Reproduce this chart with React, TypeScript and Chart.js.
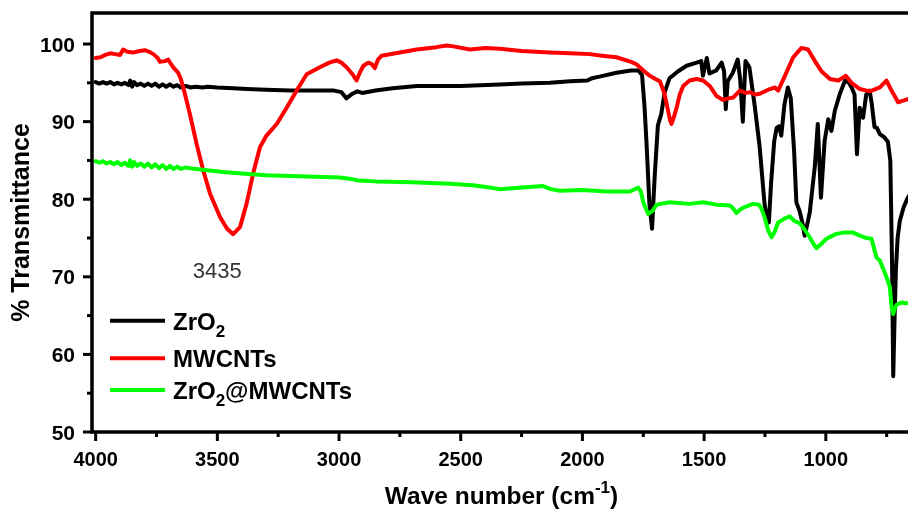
import React, { useEffect, useRef } from 'react';
import { Chart, registerables } from 'chart.js';

Chart.register(...registerables);

const FONT = '"Liberation Sans", Arial, Helvetica, sans-serif';

// ---- Data (wavenumber cm-1, % transmittance) ----
const zro2Wave = [4000, 3985, 3970, 3955, 3940, 3925, 3910, 3895, 3880, 3865, 3858, 3850, 3842, 3830, 3815, 3800, 3785, 3770, 3755, 3740, 3725, 3710, 3695, 3680, 3665, 3650, 3630, 3610, 3590, 3560, 3540, 3500, 3435, 3380, 3300, 3200, 3100, 3020, 2990, 2970, 2945, 2925, 2905, 2850, 2780, 2680, 2600, 2500, 2420, 2340, 2250, 2134, 2050, 1980, 1960, 1930, 1860, 1800, 1770, 1755, 1745, 1737, 1725, 1714, 1703, 1690, 1676, 1662, 1642, 1607, 1572, 1531, 1512, 1505, 1489, 1478, 1450, 1428, 1418, 1411, 1403, 1382, 1362, 1352, 1341, 1330, 1314, 1292, 1272, 1252, 1240, 1234, 1225, 1212, 1202, 1192, 1183, 1170, 1156, 1144, 1130, 1121, 1108, 1095, 1087, 1078, 1066, 1045, 1033, 1020, 1005, 990, 977, 963, 942, 921, 905, 894, 882, 872, 861, 847, 834, 820, 812, 800, 790, 778, 760, 745, 735, 728, 723, 718, 712, 705, 696, 680, 663, 650];
const zro2T = [95.1, 94.9, 95.1, 94.9, 95.1, 94.8, 95.0, 94.8, 95.0, 94.7, 95.3, 94.5, 95.1, 94.7, 94.9, 94.6, 94.9, 94.6, 94.9, 94.5, 94.8, 94.5, 94.8, 94.5, 94.7, 94.4, 94.6, 94.4, 94.5, 94.4, 94.5, 94.4, 94.3, 94.2, 94.1, 94.0, 94.0, 94.0, 93.8, 93.0, 93.6, 93.9, 93.7, 94.0, 94.3, 94.6, 94.6, 94.6, 94.7, 94.8, 94.9, 95.0, 95.2, 95.3, 95.6, 95.8, 96.3, 96.6, 96.6, 96.0, 92.0, 87.5, 79.5, 76.2, 83.0, 89.5, 91.0, 93.8, 95.6, 96.5, 97.2, 97.6, 97.8, 95.9, 98.2, 96.2, 96.6, 97.6, 96.5, 91.6, 95.2, 96.3, 98.0, 95.5, 90.0, 97.8, 97.0, 92.0, 86.8, 79.5, 77.0, 77.0, 82.0, 87.5, 89.2, 89.4, 88.2, 92.2, 94.4, 93.0, 86.0, 79.6, 78.5, 76.8, 75.3, 76.5, 78.3, 84.3, 89.7, 80.2, 87.5, 90.3, 88.8, 91.4, 93.6, 95.3, 95.0, 94.4, 93.5, 85.8, 91.8, 90.5, 93.5, 94.0, 92.5, 89.3, 89.2, 88.4, 88.0, 87.4, 85.0, 72.0, 57.2, 64.0, 71.0, 75.0, 77.2, 79.0, 80.2, 80.8];

const mwcntWave = [4000, 3980, 3960, 3940, 3920, 3900, 3887, 3870, 3846, 3820, 3797, 3780, 3763, 3745, 3736, 3715, 3702, 3690, 3681, 3661, 3650, 3640, 3613, 3585, 3558, 3530, 3489, 3460, 3435, 3407, 3380, 3353, 3325, 3298, 3256, 3215, 3174, 3133, 3079, 3040, 3010, 2990, 2969, 2942, 2928, 2915, 2900, 2880, 2865, 2853, 2840, 2825, 2750, 2681, 2600, 2558, 2530, 2462, 2400, 2339, 2250, 2134, 2050, 1970, 1920, 1860, 1800, 1778, 1750, 1723, 1700, 1682, 1665, 1654, 1640, 1634, 1625, 1613, 1600, 1586, 1560, 1531, 1504, 1477, 1449, 1422, 1400, 1381, 1353, 1330, 1312, 1290, 1271, 1230, 1209, 1196, 1168, 1134, 1100, 1073, 1045, 1018, 983, 949, 918, 894, 860, 819, 778, 751, 730, 703, 682, 663, 650];
const mwcntT = [98.2, 98.3, 98.6, 98.8, 98.7, 98.6, 99.3, 99.0, 98.9, 99.1, 99.2, 99.0, 98.7, 98.2, 97.7, 97.8, 98.0, 97.4, 97.0, 96.3, 95.5, 94.4, 91.0, 87.1, 83.7, 80.7, 77.7, 76.2, 75.5, 76.4, 79.4, 83.3, 86.7, 88.2, 89.7, 91.8, 94.0, 96.1, 97.0, 97.6, 97.9, 97.6, 97.0, 96.0, 95.3, 96.3, 97.2, 97.6, 97.4, 96.9, 98.0, 98.5, 98.9, 99.3, 99.6, 99.8, 99.7, 99.3, 99.5, 99.4, 99.1, 98.9, 98.8, 98.7, 98.5, 98.3, 97.7, 97.4, 96.6, 95.9, 95.5, 95.2, 93.8, 92.3, 90.2, 89.7, 90.5, 91.8, 93.5, 94.6, 95.3, 95.5, 95.3, 94.6, 93.3, 92.8, 93.0, 93.1, 94.0, 93.7, 93.8, 93.5, 93.6, 94.2, 94.4, 94.0, 95.9, 98.3, 99.5, 99.3, 97.8, 96.5, 95.5, 95.3, 95.9, 95.0, 94.2, 93.9, 94.4, 95.3, 94.0, 92.5, 92.7, 92.9, 93.0];

const compWave = [4000, 3985, 3970, 3955, 3940, 3925, 3910, 3895, 3880, 3865, 3858, 3850, 3842, 3830, 3815, 3800, 3785, 3770, 3755, 3740, 3725, 3710, 3695, 3680, 3665, 3650, 3630, 3613, 3560, 3476, 3400, 3300, 3202, 3100, 2996, 2950, 2920, 2850, 2700, 2545, 2450, 2380, 2339, 2250, 2161, 2130, 2093, 2000, 1900, 1805, 1771, 1760, 1750, 1730, 1712, 1695, 1641, 1560, 1504, 1450, 1394, 1380, 1367, 1355, 1340, 1299, 1275, 1264, 1250, 1237, 1223, 1210, 1196, 1170, 1148, 1130, 1107, 1085, 1066, 1050, 1038, 1020, 997, 960, 929, 888, 860, 833, 812, 792, 778, 751, 737, 730, 723, 716, 709, 690, 668, 650];
const compT = [84.9, 84.7, 84.9, 84.6, 84.8, 84.5, 84.8, 84.4, 84.7, 84.3, 85.0, 84.2, 84.8, 84.3, 84.6, 84.2, 84.6, 84.1, 84.5, 84.0, 84.4, 83.9, 84.3, 83.9, 84.2, 83.9, 84.1, 84.0, 83.8, 83.5, 83.3, 83.1, 83.0, 82.9, 82.8, 82.6, 82.4, 82.3, 82.2, 82.0, 81.8, 81.5, 81.3, 81.5, 81.7, 81.3, 81.1, 81.2, 81.0, 81.0, 81.5, 81.0, 79.6, 78.1, 78.5, 79.3, 79.6, 79.4, 79.6, 79.3, 79.2, 78.8, 78.2, 78.6, 78.9, 79.4, 79.3, 78.8, 77.5, 76.0, 75.1, 75.8, 77.0, 77.5, 77.8, 77.2, 76.9, 76.0, 75.1, 74.2, 73.7, 74.2, 74.9, 75.5, 75.7, 75.7, 75.3, 75.0, 74.9, 72.5, 72.1, 70.0, 68.7, 66.1, 65.2, 66.0, 66.4, 66.7, 66.6, 66.6];

const seriesLabels = ['ZrO₂', 'MWCNTs', 'ZrO₂@MWCNTs'];
const seriesColors = ['#000000', '#ff0000', '#00ff00'];

const xMajorTicks = [4000, 3500, 3000, 2500, 2000, 1500, 1000];
const xMinorTicks = [3750, 3250, 2750, 2250, 1750, 1250, 750];
const yMajorTicks = [50, 60, 70, 80, 90, 100];
const yMinorTicks = [55, 65, 75, 85, 95];

const xTitle = 'Wave number (cm⁻¹)';
const yTitle = '% Transmittance';
const peakLabel = '3435';
const peakLabelAt = { x: 3500, y: 70.65 };

const SUB = '₀₁₂₃₄₅₆₇₈₉';
const SUP: Record<string, string> = { '⁻': '-', '¹': '1', '²': '2', '³': '3' };

type Run = { text: string; kind: 'n' | 'sub' | 'sup' };
function toRuns(s: string): Run[] {
  const runs: Run[] = [];
  for (const ch of s) {
    let kind: Run['kind'] = 'n';
    let t = ch;
    const si = SUB.indexOf(ch);
    if (si >= 0) { kind = 'sub'; t = String(si); }
    else if (SUP[ch]) { kind = 'sup'; t = SUP[ch]; }
    const last = runs[runs.length - 1];
    if (last && last.kind === kind) last.text += t;
    else runs.push({ text: t, kind });
  }
  return runs;
}
function fontFor(kind: Run['kind'], size: number) {
  return `bold ${kind === 'n' ? size : Math.round(size * 0.7)}px ${FONT}`;
}
function measureRich(ctx: CanvasRenderingContext2D, s: string, size: number) {
  let w = 0;
  for (const r of toRuns(s)) { ctx.font = fontFor(r.kind, size); w += ctx.measureText(r.text).width; }
  return w;
}
function drawRich(ctx: CanvasRenderingContext2D, s: string, x: number, baseline: number, size: number) {
  let cx = x;
  ctx.textAlign = 'left';
  ctx.textBaseline = 'alphabetic';
  for (const r of toRuns(s)) {
    ctx.font = fontFor(r.kind, size);
    const dy = r.kind === 'sub' ? size * 0.3 : r.kind === 'sup' ? -size * 0.42 : 0;
    ctx.fillText(r.text, cx, baseline + dy);
    cx += ctx.measureText(r.text).width;
  }
}

const overlayPlugin = {
  id: 'overlay',
  afterDraw(chart: any) {
    const { ctx, chartArea: a, scales } = chart;
    const xs = scales.x;
    const ys = scales.y;
    ctx.save();
    ctx.strokeStyle = '#000';
    ctx.fillStyle = '#000';
    // frame
    ctx.lineWidth = 3.5;
    ctx.strokeRect(a.left, a.top, a.right - a.left, a.bottom - a.top);
    // ticks
    ctx.lineWidth = 3;
    ctx.lineCap = 'butt';
    const line = (x1: number, y1: number, x2: number, y2: number) => {
      ctx.beginPath(); ctx.moveTo(x1, y1); ctx.lineTo(x2, y2); ctx.stroke();
    };
    xMajorTicks.forEach(v => { const p = xs.getPixelForValue(v); line(p, a.bottom, p, a.bottom + 9); });
    xMinorTicks.forEach(v => { const p = xs.getPixelForValue(v); line(p, a.bottom, p, a.bottom + 5); });
    yMajorTicks.forEach(v => { const p = ys.getPixelForValue(v); line(a.left, p, a.left - 9, p); });
    yMinorTicks.forEach(v => { const p = ys.getPixelForValue(v); line(a.left, p, a.left - 5, p); });

    // tick labels
    ctx.fillStyle = '#000';
    ctx.textBaseline = 'alphabetic';
    ctx.font = `bold 20px ${FONT}`;
    ctx.textAlign = 'center';
    xMajorTicks.forEach(v => ctx.fillText(String(v), xs.getPixelForValue(v), a.bottom + 33.5));
    ctx.font = `bold 21px ${FONT}`;
    ctx.textAlign = 'right';
    yMajorTicks.forEach(v => ctx.fillText(String(v), a.left - 17, ys.getPixelForValue(v) + 7.5));

    // legend
    const legendY = [320.7, 358.3, 390];
    seriesLabels.forEach((lab, i) => {
      const y = legendY[i];
      ctx.strokeStyle = seriesColors[i];
      ctx.lineWidth = 4;
      line(110, y, 165, y);
      ctx.fillStyle = '#000';
      drawRich(ctx, lab, 173, y + 8.8, 24);
    });

    // peak annotation
    ctx.fillStyle = '#333';
    ctx.font = `22px ${FONT}`;
    ctx.textAlign = 'center';
    ctx.textBaseline = 'middle';
    ctx.fillText(peakLabel, xs.getPixelForValue(peakLabelAt.x), ys.getPixelForValue(peakLabelAt.y));

    // x title
    ctx.fillStyle = '#000';
    const xw = measureRich(ctx, xTitle, 24.5);
    drawRich(ctx, xTitle, (a.left + a.right) / 2 - xw / 2, 503.5, 24.5);

    // y title
    ctx.save();
    ctx.translate(22, (a.top + a.bottom) / 2);
    ctx.rotate(-Math.PI / 2);
    ctx.font = `bold 25px ${FONT}`;
    ctx.textAlign = 'center';
    ctx.textBaseline = 'middle';
    ctx.fillText(yTitle, 0, 0);
    ctx.restore();

    ctx.restore();
  },
};

function pts(xs: number[], ys: number[]) {
  return xs.map((x, i) => ({ x, y: ys[i] }));
}

export default function App() {
  const ref = useRef<HTMLCanvasElement | null>(null);
  useEffect(() => {
    if (!ref.current) return;
    const waves = [zro2Wave, mwcntWave, compWave];
    const vals = [zro2T, mwcntT, compT];
    const order = [3, 2, 1];
    const chart = new Chart(ref.current, {
      type: 'line',
      data: {
        datasets: seriesLabels.map((label, i) => ({
          label,
          data: pts(waves[i], vals[i]),
          borderColor: seriesColors[i],
          backgroundColor: seriesColors[i],
          borderWidth: 4,
          pointRadius: 0,
          tension: 0,
          fill: false,
          order: order[i],
          borderJoinStyle: 'round' as const,
          borderCapStyle: 'round' as const,
        })),
      },
      options: {
        animation: false,
        responsive: true,
        maintainAspectRatio: false,
        devicePixelRatio: 1,
        layout: { padding: { top: 13, right: 1, left: 0, bottom: 0 } },
        plugins: { legend: { display: false }, tooltip: { enabled: false } },
        events: [],
        scales: {
          x: {
            type: 'linear',
            reverse: true,
            min: 650,
            max: 4015,
            grid: { display: false, drawTicks: false },
            border: { display: false },
            ticks: { display: false, padding: 0 },
            afterFit: (s: any) => { s.height = 81; s.paddingLeft = 0; s.paddingRight = 0; },
          },
          y: {
            type: 'linear',
            min: 50,
            max: 104,
            grid: { display: false, drawTicks: false },
            border: { display: false },
            ticks: { display: false, padding: 0 },
            afterFit: (s: any) => { s.width = 92; s.paddingTop = 0; s.paddingBottom = 0; },
          },
        },
      },
      plugins: [overlayPlugin],
    });
    return () => chart.destroy();
  }, []);

  return (
    <div style={{ position: 'fixed', left: 0, top: 0, width: '908px', height: '513px', overflow: 'hidden', background: '#fff' }}>
      <div style={{ position: 'absolute', left: 0, top: 0, width: '912px', height: '513px' }}>
        <canvas ref={ref} />
      </div>
    </div>
  );
}
